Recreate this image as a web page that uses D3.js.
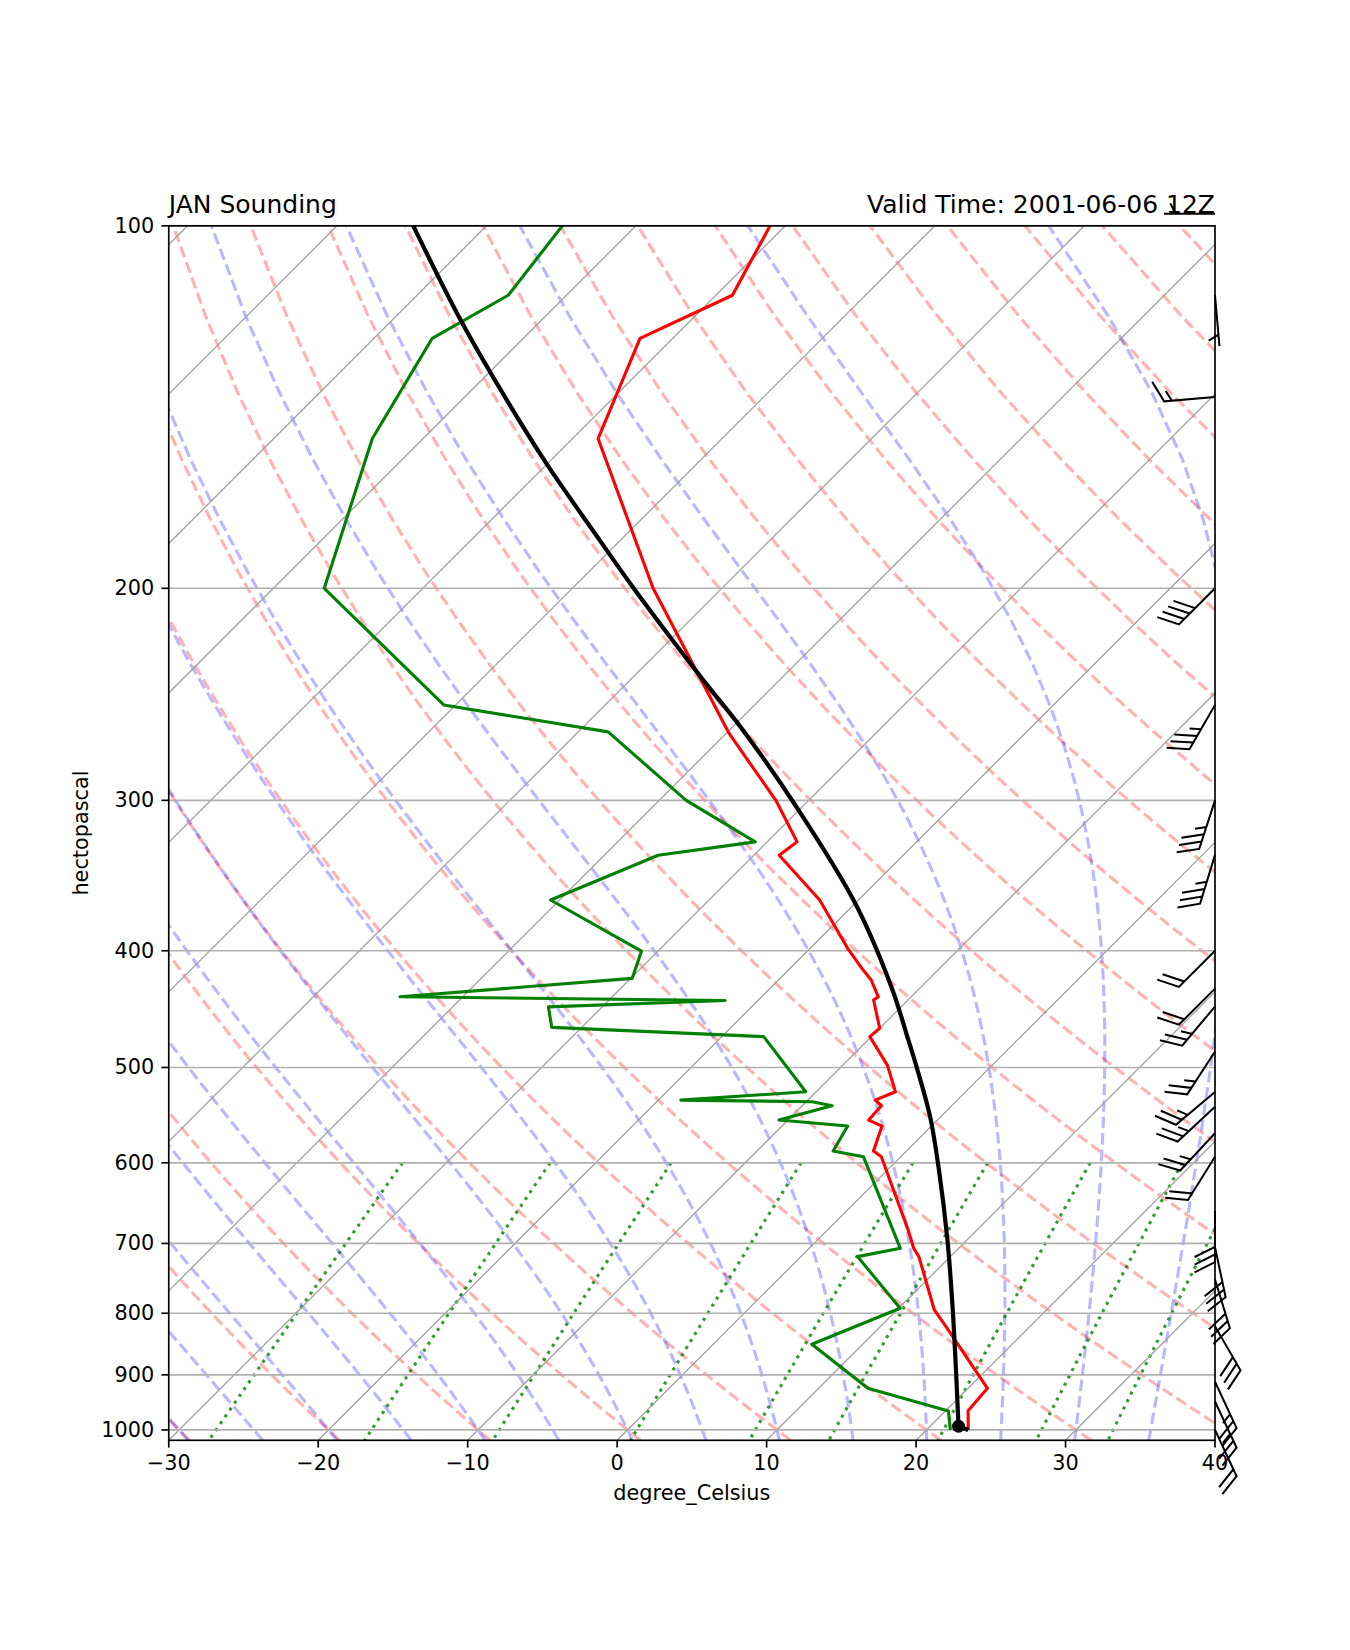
<!DOCTYPE html>
<html><head><meta charset="utf-8">
<script src="https://cdn.jsdelivr.net/npm/d3@7"></script>
<style>body{margin:0;background:#fff;} svg{display:block;font-family:"DejaVu Sans",sans-serif;}</style>
</head><body><svg id="chart" width="1350" height="1650"></svg>
<script>
// ---------------- DATA ----------------
const titleLeft = "JAN Sounding";
const titleRight = "Valid Time: 2001-06-06 12Z";
const xLabel = "degree_Celsius";
const yLabel = "hectopascal";
const xTicks = [-30, -20, -10, 0, 10, 20, 30, 40];
const yTicks = [100, 200, 300, 400, 500, 600, 700, 800, 900, 1000];

// Temperature profile (hPa, degC)
const tempP = [1000, 963.9, 923.5, 820.8, 795.0, 717.9, 706.6, 682.3, 593, 586.7, 559.3, 552.9, 538, 532.2, 523.8, 498, 471.4, 463.9, 439.5, 436.8, 423, 413.7, 398.1, 363, 333.2, 324.8, 300, 264, 250, 200, 150.2, 124.0, 114.2, 97.7];
const tempC = [22.8, 21.5, 21.3, 14.4, 12.5, 7.9, 7.0, 5.4, -1.3, -2.2, -3.3, -4.6, -4.7, -5.5, -4.7, -7.0, -10.1, -10.0, -12.3, -12.2, -13.8, -15.2, -17.5, -22.6, -28.3, -28.0, -32.2, -39.8, -42.7, -54.6, -68.3, -72.2, -68.9, -71.4];

// Dewpoint profile (hPa, degC)
const dewP = [1000, 964.3, 923.5, 848.9, 792.4, 717.9, 706.6, 593, 586.7, 559.3, 552.9, 538, 533.9, 532.2, 523.8, 471.4, 463.1, 445.3, 439.9, 436.8, 421.7, 400.3, 363, 333.2, 324.8, 300, 263.2, 250, 200, 150.2, 124.0, 114.2, 97.7];
const dewC = [21.6, 20.2, 13.3, 6.6, 10.1, 3.8, 6.1, -2.5, -4.9, -5.6, -10.6, -8.0, -9.6, -18.5, -10.7, -17.2, -32.0, -33.6, -22.2, -44.2, -29.9, -31.1, -40.6, -36.4, -30.8, -38.2, -48.0, -60.8, -76.6, -83.4, -86.1, -83.9, -85.1];

// Parcel profile (hPa, degC): surface point, then LCL and above
const parcelSfcP = [1000];
const parcelSfcC = [22.8];
const parcelP = [993, 897.4, 790, 695.5, 612.2, 549.5, 500, 474.4, 428.5, 365.3, 303.7, 260.6, 238.4, 200, 182.4, 157.5, 139.5, 119.8, 100, 97.7];
const parcelC = [21.9, 18.2, 13.5, 8.7, 3.7, -0.7, -4.9, -7.3, -12.0, -20.0, -30.4, -39.5, -45.1, -55.9, -61.4, -70.1, -77.0, -85.4, -94.9, -96.1];

// LCL marker
const lclP = [993];
const lclC = [21.9];

// Wind barbs (hPa, direction deg, speed kt)
const barbP = [97.7, 114.2, 138.7, 200, 250, 300, 333, 400, 430, 445, 485, 524, 539, 567, 593, 658, 705, 750, 820, 912, 947, 1000];
const barbDir = [270, 175, 265, 225, 210, 198, 197, 225, 225, 220, 213, 230, 227, 223, 212, 180, 168, 163, 150, 155, 155, 155];
const barbSpd = [5, 5, 15, 40, 35, 35, 35, 20, 20, 25, 25, 25, 25, 25, 20, 30, 30, 30, 30, 25, 25, 20];

// Reference lines
const dryT0 = d3.range(-30, 241, 10);
const moistT0 = d3.range(-30, 41, 5);
const mixingRatios = [0.0004, 0.001, 0.002, 0.004, 0.007, 0.01, 0.016, 0.024, 0.032];

// ---------------- LAYOUT ----------------
const L = 168.75, R = 1215, T = 225.8, B = 1440.3;
const x = d3.scaleLinear().domain([-30, 40]).range([L, R]);
const y = d3.scaleLog().domain([1020, 100]).range([B, T]);
const sx = (t, p) => x(t) + (B - y(p));

const svg = d3.select("#chart");
svg.append("rect").attr("width", 1350).attr("height", 1650).attr("fill", "#fff");
svg.append("defs").append("clipPath").attr("id", "clip")
  .append("rect").attr("x", L).attr("y", T).attr("width", R - L).attr("height", B - T);

const plot = svg.append("g").attr("clip-path", "url(#clip)");
const line = d3.line().x(d => sx(d[1], d[0])).y(d => y(d[0]));

// thermodynamics constants
const Rd = 287.04749, Lv = 2.50084e6, Cpd = 1004.6662, eps = 0.6219569, kappa = Rd / Cpd;
const pLevels = d3.range(50).map(i => 1020 + (100 - 1020) * i / 49);

// dry adiabats
const gDry = plot.append("g");
dryT0.forEach(t0 => {
  const pts = pLevels.map(p => [p, (t0 + 273.15) * Math.pow(p / 1000, kappa) - 273.15]);
  gDry.append("path").attr("d", line(pts)).attr("fill", "none")
    .attr("stroke", "#ff0000").attr("stroke-opacity", 0.3).attr("stroke-width", 3.1)
    .attr("stroke-dasharray", "11.5,5");
});

// moist adiabats
function dTdp(p, Tk) {
  const es = 6.112 * Math.exp(17.67 * (Tk - 273.15) / (Tk - 29.65));
  const rs = eps * es / (p - es);
  return (Rd * Tk + Lv * rs) / (Cpd + Lv * Lv * rs * eps / (Rd * Tk * Tk)) / p;
}
function integ(p0, T0, p1) {
  const n = Math.max(1, Math.ceil(Math.abs(p1 - p0) / 2));
  const h = (p1 - p0) / n;
  let p = p0, Tk = T0;
  for (let i = 0; i < n; i++) {
    const k1 = dTdp(p, Tk), k2 = dTdp(p + h / 2, Tk + h / 2 * k1),
          k3 = dTdp(p + h / 2, Tk + h / 2 * k2), k4 = dTdp(p + h, Tk + h * k3);
    Tk += h / 6 * (k1 + 2 * k2 + 2 * k3 + k4); p += h;
  }
  return Tk;
}
const gMoist = plot.append("g");
moistT0.forEach(t0 => {
  const pts = [];
  let pc = 1000, Tc = t0 + 273.15;
  const up = pLevels.filter(p => p >= 1000).sort((a, b) => a - b);
  up.forEach(p => { Tc = integ(pc, Tc, p); pc = p; pts.push([p, Tc - 273.15]); });
  pc = 1000; Tc = t0 + 273.15;
  const dn = pLevels.filter(p => p < 1000).sort((a, b) => b - a);
  dn.forEach(p => { Tc = integ(pc, Tc, p); pc = p; pts.push([p, Tc - 273.15]); });
  pts.sort((a, b) => b[0] - a[0]);
  gMoist.append("path").attr("d", line(pts)).attr("fill", "none")
    .attr("stroke", "#0000ff").attr("stroke-opacity", 0.28).attr("stroke-width", 3.1)
    .attr("stroke-dasharray", "11.5,5");
});

// mixing lines
const gMix = plot.append("g");
const pMix = d3.range(50).map(i => 600 + (1020 - 600) * i / 49);
mixingRatios.forEach(w => {
  const pts = pMix.map(p => {
    const e = p * w / (eps + w);
    const v = Math.log(e / 6.112);
    return [p, 243.5 * v / (17.67 - v)];
  });
  gMix.append("path").attr("d", line(pts)).attr("fill", "none")
    .attr("stroke", "#008000").attr("stroke-opacity", 0.8).attr("stroke-width", 3.1)
    .attr("stroke-dasharray", "3.1,5.2");
});

// grid
const gGrid = plot.append("g");
d3.range(-110, 41, 10).forEach(t => {
  gGrid.append("line").attr("x1", sx(t, 1020)).attr("y1", y(1020))
    .attr("x2", sx(t, 100)).attr("y2", y(100))
    .attr("stroke", "#a0a0a0").attr("stroke-width", 1.3);
});
yTicks.forEach(p => {
  gGrid.append("line").attr("x1", L).attr("x2", R).attr("y1", y(p)).attr("y2", y(p))
    .attr("stroke", "#b0b0b0").attr("stroke-width", 1.67);
});

// profiles
const mk = (P, C) => P.map((p, i) => [p, C[i]]);
plot.append("path").attr("d", line(mk(tempP, tempC))).attr("fill", "none")
  .attr("stroke", "#ff0000").attr("stroke-width", 3.1).attr("stroke-linejoin", "round");
plot.append("path").attr("d", line(mk(dewP, dewC))).attr("fill", "none")
  .attr("stroke", "#008000").attr("stroke-width", 3.1).attr("stroke-linejoin", "round");
const pline = d3.line().x(d => sx(d[1], d[0])).y(d => y(d[0])).curve(d3.curveCatmullRom.alpha(0.5));
plot.append("path").attr("d", line([[parcelSfcP[0], parcelSfcC[0]], [parcelP[0], parcelC[0]]])).attr("fill", "none")
  .attr("stroke", "#000").attr("stroke-width", 4.2);
plot.append("path").attr("d", pline(mk(parcelP, parcelC))).attr("fill", "none")
  .attr("stroke", "#000").attr("stroke-width", 4.2);
lclP.forEach((p, i) => {
  plot.append("circle").attr("cx", sx(lclC[i], p)).attr("cy", y(p)).attr("r", 6.5).attr("fill", "#000");
});

// spines
svg.append("rect").attr("x", L).attr("y", T).attr("width", R - L).attr("height", B - T)
  .attr("fill", "none").attr("stroke", "#000").attr("stroke-width", 1.67);

// ticks + labels
const fs = 20.8;
yTicks.forEach(p => {
  svg.append("line").attr("x1", L - 7.3).attr("x2", L).attr("y1", y(p)).attr("y2", y(p))
    .attr("stroke", "#000").attr("stroke-width", 1.67);
  svg.append("text").attr("x", L - 14.6).attr("y", y(p)).attr("text-anchor", "end")
    .attr("dominant-baseline", "central").attr("font-size", fs).text(p);
});
xTicks.forEach(t => {
  svg.append("line").attr("x1", x(t)).attr("x2", x(t)).attr("y1", B).attr("y2", B + 7.3)
    .attr("stroke", "#000").attr("stroke-width", 1.67);
  svg.append("text").attr("x", x(t)).attr("y", B + 14.6 + 15.5).attr("text-anchor", "middle")
    .attr("font-size", fs).text(t < 0 ? "\u2212" + Math.abs(t) : String(t));
});
svg.append("text").attr("x", (L + R) / 2).attr("y", 1500).attr("text-anchor", "middle")
  .attr("font-size", fs).text(xLabel);
svg.append("text").attr("transform", `translate(88,${(T + B) / 2}) rotate(-90)`)
  .attr("text-anchor", "middle").attr("font-size", fs).text(yLabel);

// titles
svg.append("text").attr("x", L).attr("y", 213).attr("font-size", 25).text(titleLeft);
svg.append("text").attr("x", R).attr("y", 213).attr("text-anchor", "end").attr("font-size", 25).text(titleRight);

// wind barbs (matplotlib geometry)
function barbVerts(spd, dir) {
  const len = 7, fh = 0.4 * len, fw = 0.25 * len, sp = 0.15 * len;
  let mag = Math.round(spd / 5) * 5;
  const nflags = Math.floor(mag / 50); mag -= nflags * 50;
  const nbarbs = Math.floor(mag / 10); mag -= nbarbs * 10;
  const half = mag >= 5;
  const v = [[0, 0]]; let off = len;
  for (let i = 0; i < nflags; i++) {
    if (off !== len) off += sp / 2;
    v.push([0, off], [fh, off - fw / 2], [0, off - fw]); off -= fw + sp;
  }
  for (let i = 0; i < nbarbs; i++) { v.push([0, off], [fh, off + fh / 2], [0, off]); off -= sp; }
  if (half) {
    if (off === len) { v.push([0, off]); off -= 1.5 * sp; }
    v.push([0, off], [fh / 2, off + fh / 4], [0, off]);
  }
  const rad = dir * Math.PI / 180;
  const u = -spd * Math.sin(rad), w = -spd * Math.cos(rad);
  const th = Math.atan2(w, u) + Math.PI / 2;
  const c = Math.cos(th), s = Math.sin(th);
  return v.map(([lx, ly]) => [lx * c - ly * s, lx * s + ly * c]);
}
const bs = 3.5 * 150 / 72;
const gBarb = svg.append("g");
barbP.forEach((p, i) => {
  const x0 = R, y0 = y(p);
  const vs = barbVerts(barbSpd[i], barbDir[i]);
  const d = "M" + vs.map(([X, Y]) => (x0 + X * bs).toFixed(2) + "," + (y0 - Y * bs).toFixed(2)).join("L") + "Z";
  gBarb.append("path").attr("d", d).attr("fill", "#000").attr("stroke", "#000")
    .attr("stroke-width", 2).attr("stroke-linejoin", "miter");
});
</script>
</body></html>
